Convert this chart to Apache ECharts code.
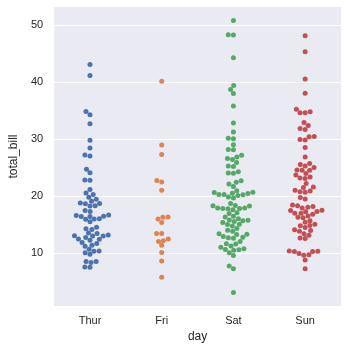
<!DOCTYPE html>
<html><head><meta charset="utf-8">
<script src="https://cdn.jsdelivr.net/npm/echarts@6/dist/echarts.min.js"></script>
<style>html,body{margin:0;padding:0;background:#fff}#c{width:348px;height:348px}</style>
</head><body><div id="c"></div>
<script>
const days = ['Thur', 'Fri', 'Sat', 'Sun'];
const thur = [27.20, 22.76, 17.29, 19.44, 16.66, 10.07, 32.68, 15.98, 34.83, 13.03, 18.28, 24.71, 21.16,
  10.65, 12.43, 24.08, 11.69, 13.42, 14.26, 15.95, 12.48, 29.80, 8.52, 14.52, 11.38, 22.82, 19.08, 20.27, 11.17,
  12.26, 18.26, 8.51, 10.33, 14.15, 16.00, 13.16, 17.47, 34.30, 41.19, 27.05, 16.43, 8.35, 18.64, 11.87, 9.78, 7.51,
  19.81, 28.44, 15.48, 16.58, 7.56, 10.34, 43.11, 13.00, 13.51, 18.71, 12.74, 13.00, 16.40, 20.53, 16.47, 18.78];
const fri = [28.97, 22.49, 5.75, 16.32, 22.75, 40.17, 27.28, 12.03, 21.01, 12.46, 11.35, 15.38,
  12.16, 13.42, 8.58, 15.98, 13.42, 16.27, 10.09];
const sat = [20.65, 17.92, 20.29, 15.77, 39.42, 19.82, 17.81, 13.37, 12.69, 21.70, 19.65, 9.55, 18.35, 15.06, 20.69,
  17.78, 24.06, 16.31, 16.93, 18.69, 31.27, 16.04,
  38.01, 26.41, 11.24, 48.27, 20.29, 13.81, 11.02, 18.29, 17.59, 20.08, 16.45, 3.07, 20.23, 15.01, 12.02, 17.07,
  26.86, 25.28, 14.73, 10.51, 17.92,
  44.30, 22.42, 20.92, 15.36, 20.49, 25.21, 18.24, 14.31, 14.00, 7.25,
  10.59, 10.63, 50.81, 15.81,
  26.59, 38.73, 24.27, 12.76, 30.06, 25.89, 48.33, 13.27, 28.17, 12.90, 28.15, 11.59, 7.74, 30.14,
  20.45, 13.28, 22.12, 24.01, 15.69, 11.61, 10.77, 15.53, 10.07, 12.60, 32.83, 35.83, 29.03, 27.18, 22.67, 17.82];
const sun = [16.99, 10.34, 21.01, 23.68, 24.59, 25.29, 8.77, 26.88, 15.04, 14.78, 10.27, 35.26, 15.42, 18.43, 14.83,
  21.58, 10.33, 16.29, 16.97,
  17.46, 13.94, 9.68, 30.40, 18.29, 22.23, 32.40, 28.55, 18.04, 12.54, 10.29, 34.81, 9.94, 25.56, 19.49,
  38.07, 23.95, 25.71, 17.31, 29.93,
  14.07, 13.13, 17.26, 24.55, 19.77, 29.85, 48.17, 25.00, 13.39, 16.49, 21.50, 12.66, 16.21, 13.81, 17.51, 24.52,
  20.76, 31.71,
  7.25, 31.85, 16.82, 32.90, 17.89, 14.48, 9.60, 34.63, 34.65, 23.33, 45.35, 23.17, 40.55, 20.69, 20.90, 30.46,
  18.15, 23.10, 15.69];
const groups = [thur, fri, sat, sun];
const colors = ['#4C72B0', '#DD8452', '#55A868', '#C44E52'];

const all = [].concat(...groups);
const lo = Math.min(...all), hi = Math.max(...all), pad = (hi - lo) * 0.05;
const txt = '#262626';
const font = 'Liberation Sans, Arial, Helvetica, sans-serif';

const chart = echarts.init(document.getElementById('c'), null, {renderer: 'canvas'});
const option = {
  animation: false,
  grid: {left: 44, right: 7, top: 7, bottom: 41, show: true, backgroundColor: '#EAEAF2', borderWidth: 0},
  xAxis: [{
    type: 'category', data: days, boundaryGap: true,
    axisLine: {show: false}, axisTick: {show: false}, splitLine: {show: false},
    axisLabel: {color: txt, fontSize: 11, fontFamily: font, margin: 9},
    name: 'day', nameLocation: 'middle', nameGap: 23,
    nameTextStyle: {color: txt, fontSize: 12, fontFamily: font}
  }, {
    type: 'value', min: -0.5, max: 3.5, show: false
  }],
  yAxis: {
    type: 'value', min: lo - pad, max: hi + pad,
    axisLine: {show: false}, axisTick: {show: false},
    splitLine: {show: true, showMinLine: false, showMaxLine: false, lineStyle: {color: '#ffffff', width: 1}},
    axisLabel: {color: txt, fontSize: 11, fontFamily: font, margin: 11, showMinLabel: false, showMaxLabel: false},
    name: 'total_bill', nameLocation: 'middle', nameGap: 27,
    nameTextStyle: {color: txt, fontSize: 12, fontFamily: font}
  },
  series: days.map((d, i) => ({
    type: 'scatter', name: d, xAxisIndex: 1, yAxisIndex: 0, data: [],
    symbolSize: 5, itemStyle: {color: colors[i], opacity: 1}
  }))
};
chart.setOption(option);

// beeswarm placement (as seaborn does) in pixel space
const R = 2.45;
function swarm(vals, si) {
  const pts = vals.map(v => {
    const p = chart.convertToPixel({seriesIndex: si}, [si, v]);
    return {v: v, y: -p[1], x: 0};
  });
  pts.sort((a, b) => a.y - b.y);
  const placed = [pts[0]];
  for (let k = 1; k < pts.length; k++) {
    const p = pts[k];
    const nb = [];
    for (let j = placed.length - 1; j >= 0; j--) {
      if (p.y - placed[j].y < 2 * R) nb.push(placed[j]); else break;
    }
    let cands = [0];
    let leftFirst = true;
    nb.forEach(n => {
      const dy = p.y - n.y;
      const dx = Math.sqrt(Math.max(4 * R * R - dy * dy, 0)) * 1.05;
      if (leftFirst) cands.push(n.x - dx, n.x + dx); else cands.push(n.x + dx, n.x - dx);
      leftFirst = !leftFirst;
    });
    const idx = cands.map((c, i) => i);
    idx.sort((a, b) => (Math.abs(cands[a]) - Math.abs(cands[b])) || (a - b));
    let chosen = 0;
    for (const i of idx) {
      const cx = cands[i];
      if (nb.every(n => (n.x - cx) ** 2 + (n.y - p.y) ** 2 >= 4 * R * R)) { chosen = cx; break; }
    }
    p.x = chosen;
    placed.push(p);
  }
  return placed;
}
const p0 = chart.convertToPixel({seriesIndex: 0}, [0, 10])[0];
const p1 = chart.convertToPixel({seriesIndex: 0}, [1, 10])[0];
const pxPerUnit = p1 - p0;
chart.setOption({
  series: groups.map((vals, i) => ({
    data: swarm(vals, i).map(p => [i + p.x / pxPerUnit, p.v])
  }))
});
</script>
</body></html>
